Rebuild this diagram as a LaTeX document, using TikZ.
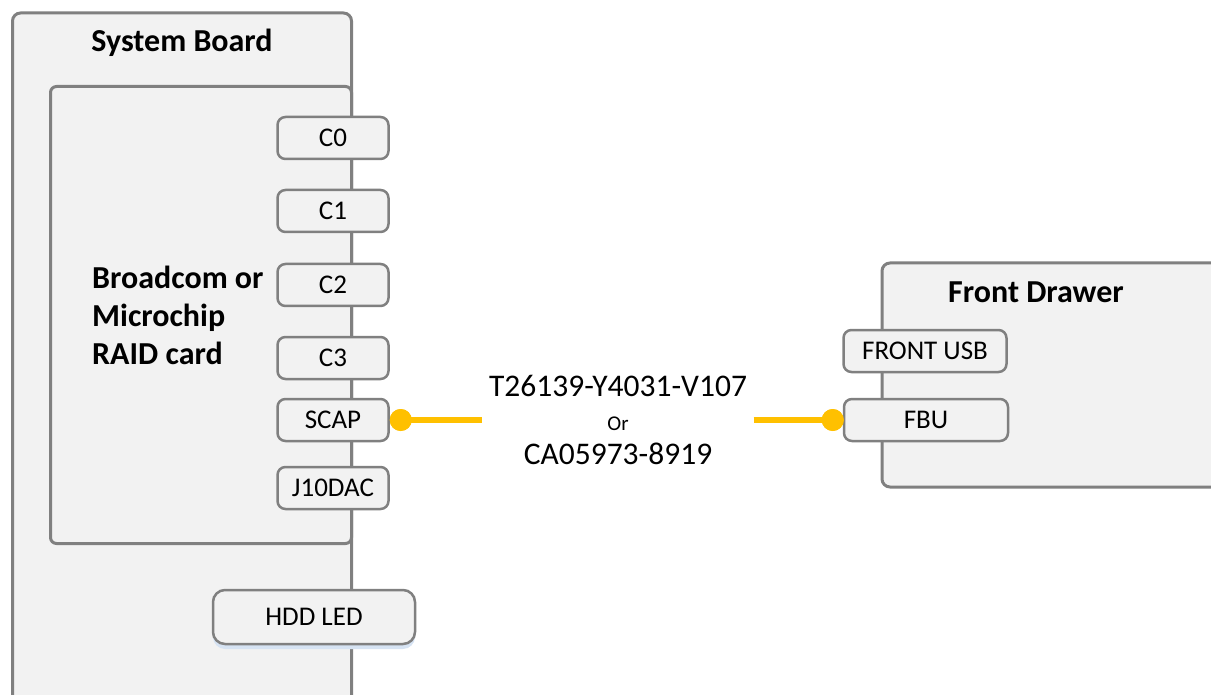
\documentclass[tikz,border=0pt]{standalone}
\usepackage{fontspec}
\setmainfont{Carlito}
\usepackage{tikz}
\usetikzlibrary{positioning, shadows}
\definecolor{mygray}{RGB}{128,128,128}
\definecolor{myfill}{RGB}{242,242,242}
\definecolor{myyellow}{RGB}{255,192,0}
\definecolor{myshadow}{RGB}{214,227,243}
\tikzset{
  board/.style={rectangle, draw=mygray, fill=myfill,
    rounded corners=8pt, line width=3pt},
  port/.style={rectangle, draw=mygray, fill=myfill,
    minimum width=111pt, minimum height=42pt, inner sep=0pt,
    font=\fontsize{27}{31}\selectfont, rounded corners=8pt, line width=2.5pt},
  title/.style={font=\fontsize{32}{38}\selectfont\bfseries},
  dot/.style={circle, fill=myyellow, minimum size=22pt, inner sep=0pt},
  cable/.style={line width=6pt, color=myyellow}
}

\begin{document}
\begin{tikzpicture}[x=1pt, y=-1pt]
  \useasboundingbox (0,0) rectangle (1211,695);
  \clip (0,0) rectangle (1211,695);
  % System board with RAID card
  \node[board, minimum width=339pt, minimum height=720pt] (sysboard) at (182,373) {};
  \node[title] (sysname) at (182,43) {System Board};
  \node[board, rounded corners=6pt, minimum width=301pt, minimum height=457pt] (raid) at (201,315) {};
  \node[title, anchor=west, align=left, inner sep=0pt] (raidname) at (92,315) {Broadcom or\\Microchip\\RAID card};
  \foreach \name/\y in {C0/138, C1/211, C2/285, C3/358, SCAP/420, J10DAC/488}
    \node[port] (\name) at (333,\y) {\name};
  \node[port, minimum width=202pt, minimum height=54pt, rounded corners=12pt,
    drop shadow={shadow xshift=0pt, shadow yshift=-5pt, fill=myshadow, opacity=1}] (hddled) at (314,617) {HDD LED};
  % Front drawer
  \node[board, minimum width=358pt, minimum height=224pt] (drawer) at (1061,375) {};
  \node[title] (drawername) at (1036,292) {Front Drawer};
  \node[port, minimum width=163pt] (frontusb) at (925,351) {FRONT USB};
  \node[port, minimum width=164pt] (fbu) at (926,420) {FBU};
  % Cable
  \node[align=center, inner sep=0pt, minimum width=271pt, font=\fontsize{31.5}{34}\selectfont] (cable) at (618,420)
    {T26139-Y4031-V107\\{\fontsize{21}{24}\selectfont Or}\\CA05973-8919};
  \node[dot] (scapdot) at ([xshift=11pt]SCAP.east) {};
  \node[dot] (fbudot) at ([xshift=-10pt]fbu.west) {};
  \draw[cable] (scapdot.center) -- (SCAP.east -| cable.west);
  \draw[cable] (fbu.west -| cable.east) -- (fbudot.center);
  \node[dot] at (scapdot) {};
  \node[dot] at (fbudot) {};
\end{tikzpicture}
\end{document}
